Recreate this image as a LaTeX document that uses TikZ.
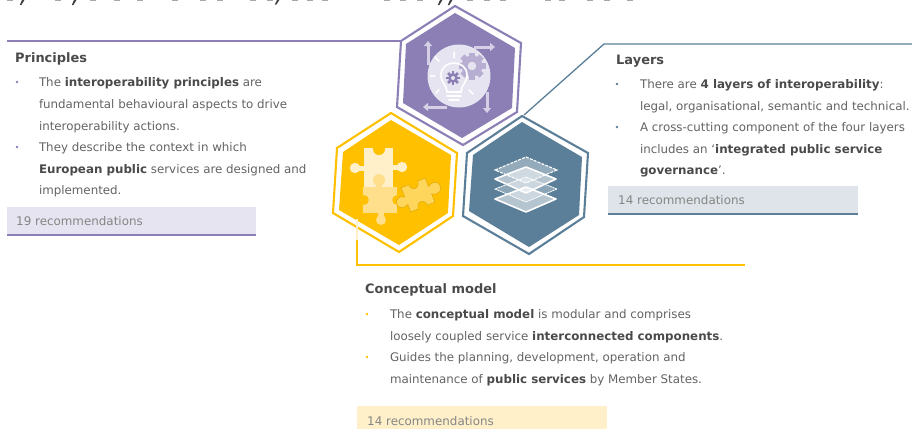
\documentclass[tikz,border=0pt]{standalone}
\usepackage{fontspec}
\setmainfont{DejaVu Sans}
\definecolor{purp}{HTML}{8B7FB5}
\definecolor{purpl}{HTML}{E6E4F0}
\definecolor{purpm}{HTML}{B7AED2}
\definecolor{arrowp}{HTML}{D5D0E5}
\definecolor{blu}{HTML}{5B7F98}
\definecolor{blul}{HTML}{DEE4EA}
\definecolor{yel}{HTML}{FFC000}
\definecolor{yell}{HTML}{FFF0C9}
\definecolor{yelm}{HTML}{FFDF8C}
\definecolor{yeld}{HTML}{FFD65C}
\definecolor{txt}{HTML}{636363}
\definecolor{txtb}{HTML}{4A4A4A}
\definecolor{rec}{HTML}{858585}
\newcommand{\bd}[1]{{\bfseries\color{txtb}#1}}
\tikzset{
  x=1pt,y=-1pt,
  line/.style={anchor=base west,inner sep=0pt,outer sep=0pt,font=\fontsize{11.85}{13}\selectfont,text=txt},
  head/.style={anchor=base west,inner sep=0pt,font=\fontsize{12.95}{13}\selectfont\bfseries,text=txtb},
  rectext/.style={anchor=base west,inner sep=0pt,font=\fontsize{11.9}{13}\selectfont,text=rec},
  dotmark/.style={circle,inner sep=0pt,minimum size=2.6pt},
  conn/.style={line width=1.3pt},
  ring/.style={line width=2.1pt,fill=white,line join=miter},
  arrowicon/.style={draw=arrowp,line width=3pt,-{Triangle[width=8pt,length=5pt]}},
  sheet/.style={draw=white,line join=round},
}
\usetikzlibrary{arrows.meta}
\begin{document}
\begin{tikzpicture}
\useasboundingbox (0,0) rectangle (912,429);
% clipped title remains
\foreach \tx in {10,58,93,117,140,175,203,220,253,270,295,310,325,387,403,420,470,487,503,548,562,590,607,630}
  \fill[black!35] (\tx-3,0) rectangle (\tx+3,1.1);
\foreach \tx/\dd in {22/5,74/5,277/4.5,440/5,450/5}
  \fill[black!75] (\tx,0) -- (\tx+2.4,0) -- (\tx-0.6,\dd) -- (\tx-2.2,\dd) -- cycle;

% connector corner points
\coordinate (pl) at (7,41);
\coordinate (pv) at (401,41);
\coordinate (bv) at (524,115);
\coordinate (bc) at (604,44);
\coordinate (br) at (912,44);
\coordinate (yv) at (357,219);
\coordinate (yc) at (357,265);
\coordinate (yr) at (745,265);

% connectors
\draw[conn,purp] (pl) -- (pv);
\draw[conn,blu] (bv) -- (bc) -- (br);
\draw[conn,yel] (yv) -- (yc) -- (yr);

% hexagons
\draw[ring,draw=purp] (455,6) -- (521,43) -- (517,112) -- (463,145) -- (397,107) -- (401,41) -- cycle;
\fill[purp] (455,13) -- (515,48) -- (512,108) -- (462,138) -- (403,103) -- (406,44) -- cycle;
\draw[ring,draw=yel] (391,113) -- (457,153) -- (453,216) -- (399,252) -- (333,213) -- (337,148) -- cycle;
\fill[yel] (391,120) -- (451,155) -- (448,213) -- (399,245) -- (339,210) -- (343,152) -- cycle;
\draw[ring,draw=blu] (522,116) -- (588,153) -- (584,217) -- (529,254) -- (463,216) -- (467,153) -- cycle;
\fill[blu] (522,122) -- (582,157) -- (579,215) -- (529,247) -- (469,211) -- (473,155) -- cycle;
\draw[conn,yell,line width=1.1pt] (yv) -- (357,240);
\draw[conn,yel,line width=1.1pt] (357,240) -- (yc);

% principles icon
\draw[arrowicon] (428,65) -- (428,41);
\draw[arrowicon] (474,47) -- (495,47);
\draw[arrowicon] (487,92) -- (487,113);
\draw[arrowicon] (447,107) -- (423,107);
\fill[purpl] (459,76) circle (31.5);
% big gear
\foreach \a in {0,45,...,315}
  \fill[purpm,rotate around={\a:(472,66)}] (469,52.5) rectangle (475,58);
\fill[purpm] (472,66) circle (10.5);
\fill[purpl] (472,66) circle (4.3);
% bulb
\draw[white,line width=1.6pt] (447,92) .. controls (447,85) and (441,83) .. (441,75)
  .. controls (441,59) and (467,59) .. (467,75)
  .. controls (467,83) and (461,85) .. (461,92);
\draw[white,line width=1.6pt,line cap=round] (447,92) -- (461,92) (447,96) -- (461,96) (449,100) -- (459,100);
\draw[white,line width=1.5pt,line cap=round]
  (454,52) -- (454,58) (435,76) -- (430,76) (439,61) -- (435,57) (469,90) -- (473,94) (439,90) -- (436,93);
% small gear
\foreach \a in {0,45,...,315}
  \fill[purp,rotate around={\a:(453,78)}] (451.6,71) rectangle (454.4,74);
\fill[purp] (453,78) circle (4.8);
\fill[purpl] (453,78) circle (2);

% puzzle icon
\fill[yell] (364,148) rectangle (393,187);
\fill[yell] (352,165.5) rectangle (364,170.5);
\fill[yell] (355,168) circle (5.2);
\fill[yell] (393,164.5) rectangle (404,169.5);
\fill[yell] (402,167) circle (5.2);
\fill[yel] (379,149) circle (6);
\fill[yelm] (363,187) rectangle (397,213);
\fill[yelm] (379,180) circle (6);
\fill[yelm] (376,184) rectangle (382,188);
\fill[yelm] (378,212) rectangle (384,218);
\fill[yelm] (381,220) circle (5);
\fill[yel] (364,200) circle (4.8);
\fill[yel] (397,200) circle (4.8);
\begin{scope}[shift={(418,195)},rotate=22]
  \fill[yeld,draw=yel!85!black,line width=.4pt] (-13,-13) -- (-5,-13) .. controls (-4,-5) and (4,-5) .. (5,-13) -- (13,-13) -- (13,-4)
  .. controls (19,-8) and (24,-5) .. (24,0) .. controls (24,5) and (19,8) .. (13,4) -- (13,13) -- (5,13)
  .. controls (4,5) and (-4,5) .. (-5,13) -- (-13,13) -- (-13,5)
  .. controls (-18,8) and (-23,5) .. (-23,1) .. controls (-23,-4) and (-18,-7) .. (-13,-3) -- cycle;
\end{scope}

% layers icon
\fill[white,opacity=.35] (526,157) -- (557,170) -- (526,183) -- (495,170) -- cycle;
\draw[white,line width=1.1pt,dash pattern=on 3pt off 1.2pt] (526,157) -- (557,170) -- (526,183) -- (495,170) -- cycle;
\fill[white,opacity=.55] (526,167) -- (556,179) -- (526,193) -- (495,179) -- cycle;
\draw[sheet,line width=1.6pt] (526,167) -- (556,179) -- (526,193) -- (495,179) -- cycle;
\fill[white,opacity=.3] (526,177) -- (557,189) -- (526,202) -- (495,189) -- cycle;
\draw[white,line width=.8pt,dash pattern=on 2pt off .6pt] (526,177) -- (557,189) -- (526,202) -- (495,189) -- cycle;
\fill[white,opacity=.55] (526,187) -- (556,199) -- (526,212) -- (495,199) -- cycle;
\draw[sheet,line width=1.6pt] (526,187) -- (556,199) -- (526,212) -- (495,199) -- cycle;

% Principles text
\node[head] (ph) at (15,62) {Principles};
\node[dotmark,fill=purp] (pb1) at (17,82) {};
\node[line] (p1) at (39,86) {The \bd{interoperability principles} are};
\node[line] (p2) at (39,108) {fundamental behavioural aspects to drive};
\node[line] (p3) at (39,130) {interoperability actions.};
\node[dotmark,fill=purp] (pb2) at (17,147) {};
\node[line] (p4) at (39,151) {They describe the context in which};
\node[line] (p5) at (39,173) {\bd{European public} services are designed and};
\node[line] (p6) at (39,194) {implemented.};
\fill[purpl] (7,207) rectangle (256,235);
\draw[purp,line width=1.2pt] (7,235) -- (256,235);
\node[rectext] (pr) at (16,225) {19 recommendations};

% Layers text
\node[head] (lh) at (616,64) {Layers};
\node[dotmark,fill=blu] (lb1) at (617,84) {};
\node[line] (l1) at (640,88) {There are \bd{4 layers of interoperability}:};
\node[line] (l2) at (640,110) {legal, organisational, semantic and technical.};
\node[dotmark,fill=blu] (lb2) at (617,127) {};
\node[line] (l3) at (640,131) {A cross-cutting component of the four layers};
\node[line] (l4) at (640,153) {includes an `\bd{integrated public service}};
\node[line] (l5) at (640,174) {\bd{governance}'.};
\fill[blul] (608,186) rectangle (858,214);
\draw[blu,line width=1.2pt] (608,214) -- (858,214);
\node[rectext] (lr) at (618,204) {14 recommendations};

% Conceptual text
\node[head] (ch) at (365,293) {Conceptual model};
\node[dotmark,fill=yel] (cb1) at (367,314) {};
\node[line] (c1) at (390,318) {The \bd{conceptual model} is modular and comprises};
\node[line] (c2) at (390,340) {loosely coupled service \bd{interconnected components}.};
\node[dotmark,fill=yel] (cb2) at (367,357) {};
\node[line] (c3) at (390,361) {Guides the planning, development, operation and};
\node[line] (c4) at (390,383) {maintenance of \bd{public services} by Member States.};
\fill[yell] (357,406) rectangle (607,429);
\node[rectext] (cr) at (367,425) {14 recommendations};
\end{tikzpicture}
\end{document}
